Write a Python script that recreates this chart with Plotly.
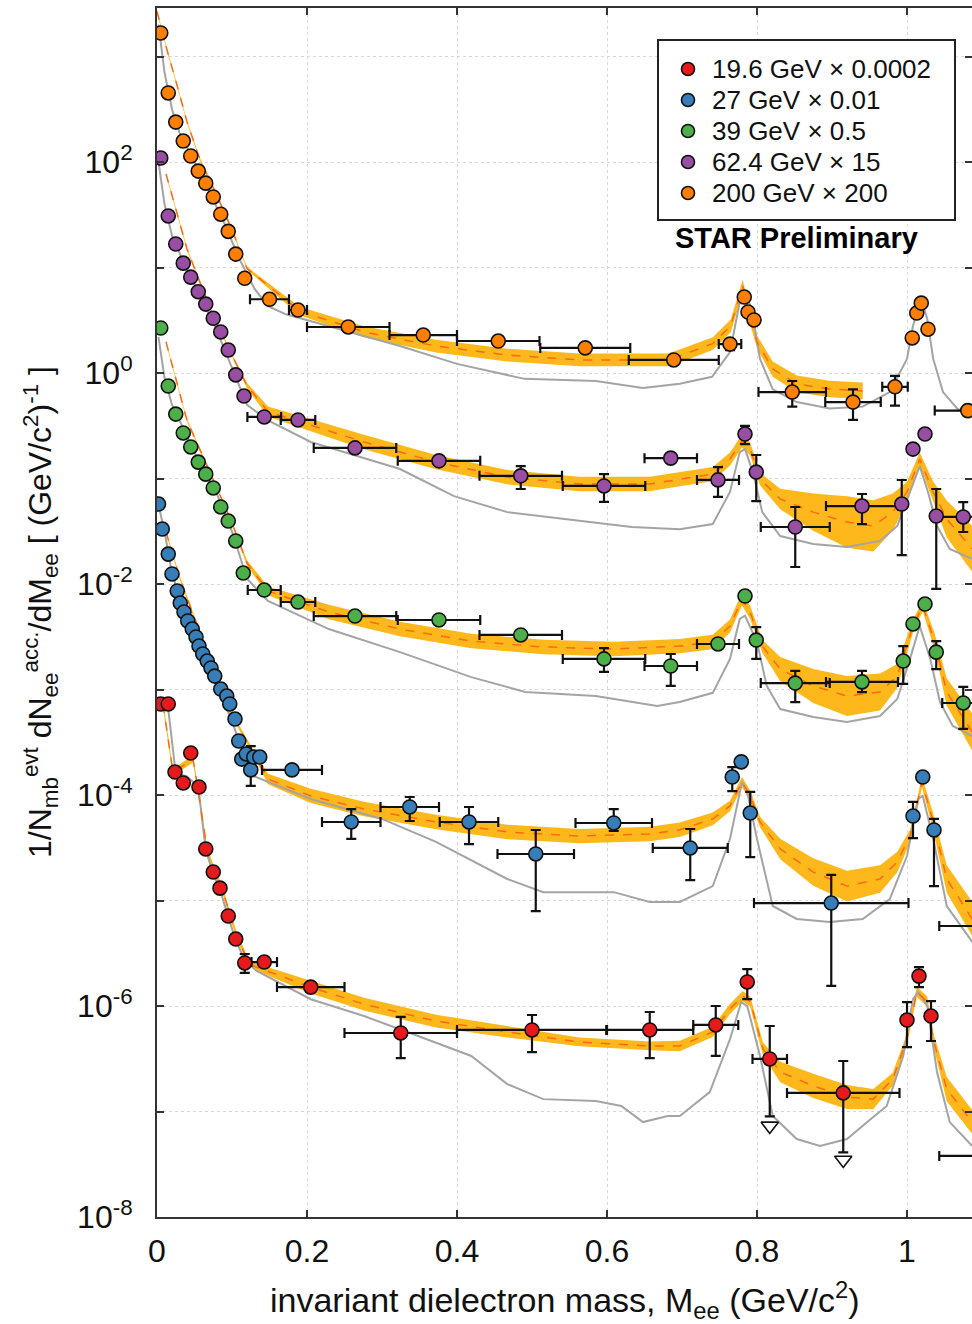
import plotly.graph_objects as go

N = None

# ---------------- data points (x in GeV/c^2, scaled yields) ----------------
# 200 GeV x 200
o_x = [0.005,0.015,0.025,0.035,0.045,0.055,0.065,0.075,0.085,0.095,0.105,0.117,0.15,0.188,0.255,0.355,0.455,0.571,0.689,0.764,0.783,0.788,0.796,0.847,0.928,0.984,1.007,1.013,1.019,1.028,1.081]
o_y = [1671,451,239,158,114,82,63,46.6,32,22,13.4,7.9,5.0,3.95,2.73,2.29,2.01,1.73,1.33,1.88,5.25,3.78,3.18,0.66,0.53,0.74,2.15,3.7,4.6,2.6,0.44]
o_xerr = [0]*12 + [0.026,0.012,0.055,0.045,0.055,0.06,0.06,0.015,0,0,0,0.045,0.037,0.017,0,0,0,0,0.044]
o_yhi = [N]*19 + [2.1,N,N,N,0.84,0.70,0.94,N,N,N,N,N]
o_ylo = [N]*19 + [1.65,N,N,N,0.48,0.36,0.49,N,N,N,N,N]

# 62.4 GeV x 15
p_x = [0.005,0.015,0.025,0.035,0.045,0.055,0.065,0.075,0.085,0.095,0.105,0.116,0.143,0.188,0.264,0.376,0.485,0.596,0.685,0.748,0.784,0.799,0.851,0.94,0.993,1.008,1.024,1.039,1.075]
p_y = [109,30.8,16.7,11.0,8.1,5.9,4.5,3.3,2.45,1.65,0.96,0.605,0.383,0.359,0.195,0.147,0.106,0.085,0.156,0.097,0.264,0.115,0.0347,0.0548,0.0573,0.19,0.264,0.0441,0.0432]
p_xerr = [0]*12 + [0.0225,0.023,0.055,0.055,0.055,0.055,0.035,0.028,0,0,0.046,0.048,0,0,0,0,0.03]
p_yhi = [N]*16 + [0.131,0.110,N,0.128,0.315,0.167,0.0537,0.0713,0.0968,N,N,0.0795,0.0598]
p_ylo = [N]*16 + [0.0795,0.060,N,0.067,0.212,0.061,0.0145,0.037,0.0188,N,N,0.00898,0.0311]

# 39 GeV x 0.5
g_x = [0.005,0.015,0.025,0.035,0.045,0.055,0.065,0.075,0.085,0.095,0.105,0.115,0.143,0.188,0.264,0.376,0.485,0.596,0.685,0.748,0.784,0.799,0.851,0.94,0.995,1.008,1.024,1.039,1.075]
g_y = [2.67,0.753,0.408,0.27,0.199,0.143,0.110,0.0813,0.0537,0.0395,0.0256,0.0127,0.00877,0.00675,0.00497,0.00456,0.00329,0.00195,0.00167,0.0027,0.00769,0.00294,0.00115,0.00118,0.00186,0.00418,0.00646,0.00226,0.000745]
g_xerr = [0]*12 + [0.022,0.023,0.055,0.055,0.055,0.055,0.035,0.028,0,0,0.046,0.048,0,0,0,0,0.028]
g_yhi = [N]*17 + [0.00247,0.00217,N,N,0.00391,0.0015,0.0015,0.00258,N,N,0.00288,0.00106]
g_ylo = [N]*17 + [0.00147,0.00108,N,N,0.00195,0.00076,0.000946,0.00113,N,N,0.00156,0.000423]

# 27 GeV x 0.01
b_x = [0.002,0.007,0.015,0.02,0.027,0.031,0.036,0.041,0.047,0.052,0.056,0.061,0.067,0.072,0.077,0.085,0.093,0.097,0.104,0.109,0.113,0.119,0.125,0.129,0.137,0.18,0.259,0.337,0.416,0.505,0.609,0.711,0.767,0.779,0.791,0.899,1.008,1.021,1.036,1.12]
b_y = [0.0573,0.0332,0.0192,0.01245,0.00859,0.0066,0.00543,0.00446,0.00374,0.00315,0.00258,0.00217,0.00186,0.0016,0.00134,0.00101,0.000867,0.000729,0.000525,0.000325,0.000219,0.000245,0.000173,0.000229,0.000229,0.000173,5.55e-5,7.7e-5,5.55e-5,2.76e-5,5.43e-5,3.15e-5,0.000148,0.000206,6.75e-5,9.46e-6,6.32e-5,0.000148,4.66e-5,5.73e-6]
b_xerr = [0]*25 + [0.04,0.039,0.039,0.039,0.051,0.051,0.05,0,0,0,0.103,0,0,0,0.077]
b_yhi = [N]*22 + [2.91e-4,N,N,N,7.36e-5,9.57e-5,7.7e-5,4.66e-5,7.36e-5,4.76e-5,1.84e-4,N,1.07e-4,1.75e-5,8.59e-5,N,5.93e-5,N]
b_ylo = [N]*22 + [1.22e-4,N,N,N,3.83e-5,5.67e-5,3.43e-5,7.94e-6,4.56e-5,1.56e-5,1.09e-4,N,2.58e-5,1.55e-6,3.91e-5,N,1.37e-5,N]

# 19.6 GeV x 0.0002
r_x = [0.005,0.015,0.024,0.035,0.045,0.056,0.065,0.075,0.084,0.095,0.105,0.117,0.143,0.205,0.325,0.5,0.657,0.745,0.787,0.817,0.915,1.0,1.016,1.032,1.12]
r_y = [7.29e-4,7.29e-4,1.65e-4,1.30e-4,2.5e-4,1.19e-4,3.08e-5,1.86e-5,1.31e-5,7.13e-6,4.31e-6,2.56e-6,2.61e-6,1.51e-6,5.55e-7,5.93e-7,5.93e-7,6.61e-7,1.69e-6,3.15e-7,1.5e-7,7.36e-7,1.92e-6,8.03e-7,3.79e-8]
r_xerr = [0]*12 + [0.017,0.045,0.075,0.1,0.058,0.03,0,0.023,0.075,0,0,0,0.077]
r_yhi = [N]*11 + [3.11e-6,N,N,7.87e-7,8.22e-7,8.77e-7,1e-6,2.24e-6,6.46e-7,3.01e-7,1.09e-6,2.34e-6,1.11e-6,N]
r_ylo = [N]*11 + [2.06e-6,N,N,3.21e-7,3.66e-7,3.21e-7,3.36e-7,1.16e-6,9.0e-8,4.1e-8,4.08e-7,1.51e-6,4.66e-7,N]
r_ul_x = [0.817, 0.915]
r_ul_y = [7.3e-8, 3.47e-8]

# ---------------- model (yellow band, dashed centre) ----------------
ob_x = [0.0,0.013,0.027,0.04,0.057,0.08,0.101,0.12,0.19,0.276,0.372,0.467,0.563,0.681,0.697,0.741,0.765,0.781,0.79,0.8,0.821,0.853,0.897,0.941]
ob_mid = [2690,1175,525,240,107,47.9,21.9,9.8,3.87,2.45,1.80,1.48,1.33,1.33,1.45,1.9,2.8,6.7,3.5,1.97,1.09,0.787,0.705,0.676]
ob_f = [1.03]*8 + [1.1,1.13,1.15,1.15,1.15,1.15,1.15,1.15,1.15,1.15,1.15,1.15,1.18,1.2,1.2,1.2]

pb_x = [0.012,0.04,0.071,0.101,0.12,0.148,0.276,0.372,0.467,0.563,0.657,0.697,0.741,0.764,0.78,0.791,0.804,0.831,0.875,0.92,0.955,0.981,1.0,1.017,1.035,1.053,1.087]
pb_mid = [77,15,4.05,1.42,0.76,0.43,0.222,0.143,0.103,0.0887,0.0887,0.099,0.11,0.153,0.226,0.19,0.099,0.064,0.048,0.0387,0.0355,0.048,0.0745,0.153,0.0745,0.0413,0.0215]
pb_f = [1.03,1.03,1.03,1.03,1.06,1.12,1.17,1.17,1.17,1.17,1.17,1.17,1.17,1.15,1.15,1.15,1.15,1.25,1.5,1.75,1.75,1.5,1.25,1.15,1.25,1.5,1.65]

gb_x = [0.012,0.04,0.07,0.1,0.12,0.148,0.229,0.324,0.419,0.515,0.609,0.697,0.741,0.764,0.78,0.791,0.807,0.831,0.875,0.92,0.964,0.987,1.008,1.021,1.037,1.053,1.087]
gb_mid = [1.97,0.355,0.117,0.038,0.0158,0.00859,0.00543,0.00374,0.00288,0.00253,0.00242,0.00258,0.00282,0.004,0.00721,0.00537,0.00258,0.00156,0.00108,0.000867,0.000946,0.00134,0.004,0.00618,0.00282,0.000946,0.000395]
gb_f = [1.03,1.03,1.03,1.03,1.06,1.1,1.17,1.17,1.17,1.17,1.17,1.17,1.17,1.15,1.15,1.15,1.15,1.3,1.45,1.55,1.5,1.3,1.15,1.12,1.2,1.35,1.5]

bb_x = [0.012,0.031,0.057,0.093,0.128,0.148,0.205,0.276,0.372,0.467,0.563,0.657,0.697,0.741,0.764,0.78,0.791,0.804,0.831,0.875,0.92,0.964,0.987,1.004,1.02,1.035,1.053,1.087]
bb_mid = [0.0311,0.0111,0.0035,7e-4,2.56e-4,1.42e-4,9.8e-5,7.36e-5,5.55e-5,4.46e-5,4.08e-5,4.27e-5,4.68e-5,5.93e-5,7.87e-5,1.33e-4,9.8e-5,5.55e-5,3.08e-5,1.86e-5,1.37e-5,1.6e-5,2.32e-5,4.08e-5,1.33e-4,5.55e-5,1.6e-5,6.68e-6]
bb_f = [1.04,1.04,1.04,1.04,1.06,1.12,1.17,1.17,1.17,1.17,1.17,1.17,1.17,1.15,1.12,1.12,1.12,1.12,1.25,1.35,1.4,1.35,1.25,1.15,1.12,1.2,1.35,1.45]

rb_x = [0.008,0.021,0.027,0.048,0.053,0.067,0.077,0.087,0.097,0.107,0.119,0.129,0.205,0.276,0.372,0.467,0.563,0.657,0.697,0.741,0.764,0.781,0.791,0.808,0.831,0.875,0.92,0.955,0.981,1.0,1.013,1.027,1.035,1.053,1.087]
rb_mid = [7.3e-4,1.7e-4,1.75e-4,2.19e-4,1.33e-4,3.0e-5,1.85e-5,1.3e-5,7.4e-6,4.5e-6,2.9e-6,2.39e-6,1.51e-6,1.04e-6,7.2e-7,5.68e-7,4.56e-7,4.18e-7,4.18e-7,5.68e-7,9.4e-7,1.24e-6,1.1e-6,3.91e-7,2.37e-7,1.75e-7,1.37e-7,1.31e-7,2.03e-7,4.86e-7,1.36e-6,1.1e-6,4.86e-7,1.63e-7,7.94e-8]
rb_f = [1.08]*12 + [1.15,1.15,1.15,1.13,1.1,1.1,1.12,1.12,1.12,1.12,1.12,1.15,1.25,1.3,1.3,1.25,1.15,1.12,1.12,1.12,1.15,1.3,1.3]

# ---------------- hadronic cocktail (grey line) ----------------
og_x = [0.002,0.01,0.02,0.03,0.05,0.07,0.09,0.11,0.13,0.148,0.172,0.257,0.324,0.4,0.49,0.585,0.648,0.697,0.74,0.764,0.777,0.784,0.793,0.804,0.821,0.853,0.897,0.941,0.977,1.0,1.008,1.019,1.027,1.035,1.048,1.067,1.087]
og_y = [2000,708,316,190,100,52,26,12,6.3,4.3,3.6,2.45,1.8,1.22,0.88,0.84,0.72,0.79,0.92,1.58,4.7,5.9,4.0,1.36,0.70,0.53,0.46,0.48,0.66,1.36,2.8,5.0,3.25,1.36,0.66,0.46,0.39]

pg_x = [0.002,0.01,0.02,0.04,0.06,0.08,0.1,0.12,0.148,0.205,0.324,0.396,0.467,0.563,0.633,0.697,0.741,0.764,0.777,0.784,0.795,0.807,0.831,0.875,0.92,0.964,0.987,1.004,1.017,1.028,1.04,1.057,1.087]
pg_y = [100,40,20,9.5,5,2.5,1.12,0.5,0.355,0.222,0.123,0.068,0.048,0.0395,0.0347,0.033,0.037,0.0745,0.178,0.19,0.112,0.048,0.0285,0.0239,0.0224,0.0256,0.0355,0.0745,0.131,0.0745,0.0355,0.0215,0.0173]

gg_x = [0.002,0.01,0.02,0.04,0.06,0.08,0.1,0.12,0.148,0.229,0.324,0.419,0.491,0.585,0.667,0.697,0.741,0.764,0.777,0.784,0.8,0.813,0.831,0.875,0.92,0.964,0.987,1.004,1.017,1.031,1.044,1.061,1.087]
gg_y = [2.2,0.9,0.5,0.25,0.126,0.071,0.0316,0.0112,0.0069,0.00374,0.00226,0.00131,0.000946,0.000867,0.000698,0.00076,0.00093,0.00195,0.00466,0.005,0.00282,0.00108,0.000653,0.000548,0.000492,0.000561,0.000813,0.00195,0.004,0.00195,0.00076,0.000451,0.000362]

bg_x = [0.002,0.01,0.02,0.04,0.06,0.08,0.1,0.115,0.129,0.205,0.3,0.372,0.467,0.515,0.609,0.657,0.697,0.741,0.764,0.78,0.787,0.8,0.821,0.853,0.897,0.941,0.977,1.0,1.015,1.021,1.035,1.053,1.087]
bg_y = [0.056,0.0316,0.0126,0.00447,0.002,0.00112,5e-4,2.5e-4,1.51e-4,9.16e-5,5.93e-5,3.59e-5,1.6e-5,1.2e-5,1.2e-5,9.68e-6,9.7e-6,1.37e-5,3.83e-5,1.33e-4,1.07e-4,3.83e-5,8.87e-6,6.68e-6,6.25e-6,6.68e-6,1.03e-5,2.64e-5,9.16e-5,9.8e-5,3.83e-5,8.87e-6,4.05e-6]

rg_x = [0.003,0.015,0.025,0.04,0.055,0.065,0.075,0.085,0.095,0.105,0.117,0.133,0.205,0.276,0.348,0.419,0.467,0.515,0.585,0.619,0.648,0.681,0.697,0.737,0.764,0.779,0.787,0.804,0.821,0.853,0.884,0.92,0.947,0.973,0.995,1.008,1.015,1.027,1.04,1.057,1.087]
rg_y = [7e-4,6.5e-4,1.6e-4,1.5e-4,1.2e-4,3e-5,1.8e-5,1.2e-5,7e-6,4.2e-6,2.7e-6,2.15e-6,1.16e-6,8.03e-7,5.2e-7,3.36e-7,1.82e-7,1.31e-7,1.26e-7,1.13e-7,7.94e-8,9.06e-8,9.06e-8,1.53e-7,4.86e-7,1.09e-6,1e-6,3.36e-7,9.06e-8,5.48e-8,4.71e-8,5.48e-8,7.94e-8,1.13e-7,3.36e-7,1.16e-6,1.36e-6,1e-6,2.37e-7,7.94e-8,4.71e-8]

legend_names = ["19.6 GeV \u00d7 0.0002", "27 GeV \u00d7 0.01", "39 GeV \u00d7 0.5", "62.4 GeV \u00d7 15", "200 GeV \u00d7 200"]
x_tickvals = [0, 0.2, 0.4, 0.6, 0.8, 1.0]
x_ticktext = ["0", "0.2", "0.4", "0.6", "0.8", "1"]
y_exponents = [-8, -7, -6, -5, -4, -3, -2, -1, 0, 1, 2, 3]

# ---------------- styling ----------------
FONT = "Liberation Sans, Arial, Helvetica, sans-serif"
BAND = "#ffb81c"
DASH = "#ff6a10"
GREY = "#a4a4a4"
INK = "#111111"
COLORS = ["#e41a1c", "#377eb8", "#4daf4a", "#984ea3", "#ff7f00"]

W, H = 972, 1324
L, R, T, B = 157, 0, 8, 107
pw, ph = W - L - R, H - T - B


def px2paper_x(px):
    return (px - L) / pw


def px2paper_y(py):
    return (H - B - py) / ph


series = [
    (r_x, r_y, r_xerr, r_yhi, r_ylo, rb_x, rb_mid, rb_f, rg_x, rg_y),
    (b_x, b_y, b_xerr, b_yhi, b_ylo, bb_x, bb_mid, bb_f, bg_x, bg_y),
    (g_x, g_y, g_xerr, g_yhi, g_ylo, gb_x, gb_mid, gb_f, gg_x, gg_y),
    (p_x, p_y, p_xerr, p_yhi, p_ylo, pb_x, pb_mid, pb_f, pg_x, pg_y),
    (o_x, o_y, o_xerr, o_yhi, o_ylo, ob_x, ob_mid, ob_f, og_x, og_y),
]

fig = go.Figure()

# bands, cocktail, model centre
for (sx, sy, sxe, shi, slo, bx, bmid, bf, gx, gy) in series:
    lo = [m / f for m, f in zip(bmid, bf)]
    hi = [m * f for m, f in zip(bmid, bf)]
    fig.add_trace(go.Scatter(x=bx, y=lo, mode="lines", line=dict(width=0, color=BAND),
                             showlegend=False, hoverinfo="skip"))
    fig.add_trace(go.Scatter(x=bx, y=hi, mode="lines", line=dict(width=0, color=BAND),
                             fill="tonexty", fillcolor=BAND, showlegend=False, hoverinfo="skip"))
    fig.add_trace(go.Scatter(x=gx, y=gy, mode="lines", line=dict(width=2, color=GREY),
                             showlegend=False, hoverinfo="skip"))
    fig.add_trace(go.Scatter(x=bx, y=bmid, mode="lines", line=dict(width=1.5, color=DASH, dash="dash"),
                             showlegend=False, hoverinfo="skip"))

# data points
for (sx, sy, sxe, shi, slo, bx, bmid, bf, gx, gy), col in zip(series, COLORS):
    up = [(h - y) if h is not None else 0 for h, y in zip(shi, sy)]
    dn = [(y - l) if l is not None else 0 for l, y in zip(slo, sy)]
    fig.add_trace(go.Scatter(
        x=sx, y=sy, mode="markers",
        marker=dict(size=14, color=col, line=dict(color=INK, width=1.6)),
        error_x=dict(type="data", array=sxe, color=INK, thickness=2.2, width=5),
        error_y=dict(type="data", symmetric=False, array=up, arrayminus=dn,
                     color=INK, thickness=2.2, width=5),
        showlegend=False, hoverinfo="skip"))

# upper-limit arrows (19.6 GeV)
fig.add_trace(go.Scatter(x=r_ul_x, y=r_ul_y, mode="markers",
                         marker=dict(symbol="triangle-down", size=15, color="white",
                                     line=dict(color=INK, width=1.6)),
                         showlegend=False, hoverinfo="skip"))

# ---------------- hand-drawn legend box ----------------
shapes = [dict(type="rect", xref="paper", yref="paper",
               x0=px2paper_x(658), x1=px2paper_x(955), y0=px2paper_y(220), y1=px2paper_y(40),
               line=dict(color="#222222", width=2), fillcolor="white", layer="above")]
annotations = []
leg_y = [69, 100, 131, 162, 193]
rad = 6.5
for name, col, yy in zip(legend_names, COLORS, leg_y):
    shapes.append(dict(type="circle", xref="paper", yref="paper",
                       x0=px2paper_x(688 - rad), x1=px2paper_x(688 + rad),
                       y0=px2paper_y(yy + rad), y1=px2paper_y(yy - rad),
                       fillcolor=col, line=dict(color=INK, width=1.6), layer="above"))
    annotations.append(dict(text=name, xref="paper", yref="paper",
                            x=px2paper_x(710), y=px2paper_y(yy), xanchor="left", yanchor="middle",
                            showarrow=False, font=dict(family=FONT, size=26, color=INK)))

annotations += [
    dict(text="<b>STAR Preliminary</b>", xref="paper", yref="paper",
         x=px2paper_x(796), y=px2paper_y(238), xanchor="center", yanchor="middle",
         showarrow=False, font=dict(family=FONT, size=29, color="black")),
    dict(text="invariant dielectron mass, M<sub>ee</sub> (GeV/c<sup>2</sup>)",
         xref="paper", yref="paper", x=px2paper_x(565), y=px2paper_y(1300),
         xanchor="center", yanchor="middle", showarrow=False,
         font=dict(family=FONT, size=34, color=INK)),
    dict(text="1/N<sub>mb</sub><sup>evt</sup> dN<sub>ee</sub><sup>acc.</sup>/dM<sub>ee</sub> [ (GeV/c<sup>2</sup>)<sup>-1</sup> ]",
         xref="paper", yref="paper", x=px2paper_x(40), y=px2paper_y(612),
         xanchor="center", yanchor="middle", textangle=-90, showarrow=False,
         font=dict(family=FONT, size=32, color=INK)),
]

ytv = [10.0 ** e for e in y_exponents]
ytt = [("10<sup>%d</sup>" % e) if e % 2 == 0 else "" for e in y_exponents]

fig.update_layout(
    width=W, height=H,
    margin=dict(l=L, r=R, t=T, b=B, autoexpand=False),
    paper_bgcolor="white", plot_bgcolor="white",
    font=dict(family=FONT, size=32, color=INK),
    showlegend=False,
    xaxis=dict(range=[0, pw / 750.0], tickvals=x_tickvals, ticktext=x_ticktext,
               showline=True, linecolor="#333333", linewidth=2, mirror="ticks",
               ticks="inside", ticklen=7, tickwidth=1.5, tickcolor="#333333",
               showgrid=True, gridcolor="#d9d9d9", griddash="dot", gridwidth=1,
               zeroline=False, tickfont=dict(size=32), ticklabelstandoff=5),
    yaxis=dict(type="log", range=[-8, -8 + ph / 105.5], tickvals=ytv, ticktext=ytt,
               showline=True, linecolor="#333333", linewidth=2, mirror="ticks",
               ticks="inside", ticklen=7, tickwidth=1.5, tickcolor="#333333",
               showgrid=True, gridcolor="#d9d9d9", griddash="dot", gridwidth=1,
               zeroline=False, tickfont=dict(size=32), ticklabelstandoff=16),
    shapes=shapes,
    annotations=annotations,
)

fig.write_html("out.html", config={"displayModeBar": False},
               post_script="document.body.style.margin='0';document.body.style.padding='0';document.body.style.overflow='hidden';")
